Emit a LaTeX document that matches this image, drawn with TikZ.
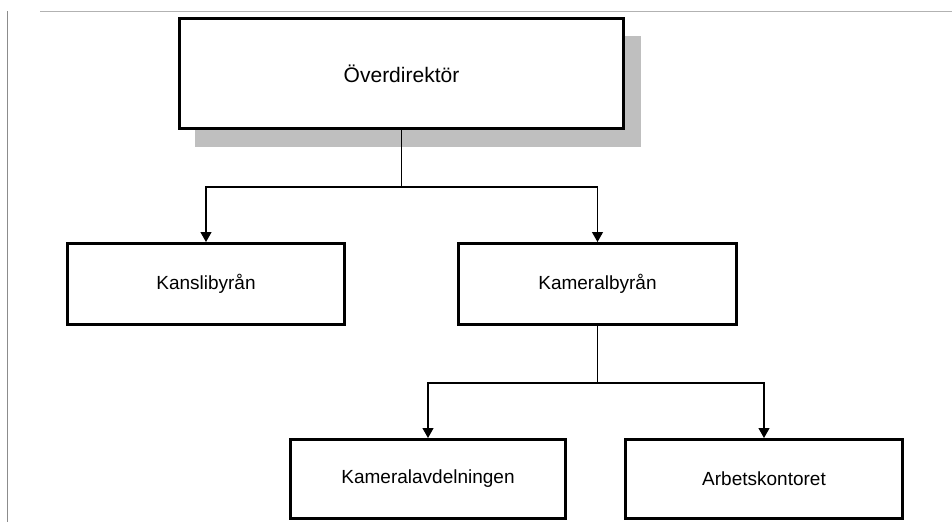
\documentclass[tikz,border=0pt]{standalone}
\usepackage{fontspec}
\setmainfont{Liberation Sans}
\usetikzlibrary{arrows.meta}
\begin{document}
\begin{tikzpicture}[x=1pt,y=-1pt,
  box/.style={draw=black, line width=3pt, fill=white, inner sep=0pt, font=\fontsize{19}{22}\selectfont},
  conn/.style={line width=1.2pt, draw=black},
  arr/.style={conn, -{Triangle[width=11pt,length=10pt]}},
  frame/.style={line width=1pt}]
\useasboundingbox (0,0) rectangle (952,522);
% page edges
\draw[frame, draw=black!30] (40,11) -- (952,11);
\draw[frame, draw=black!45] (7,11) -- (7,522);
% shadow of top box
\fill[black!25] (195,36) rectangle (641,147);
% nodes
\node[box, minimum width=444pt, minimum height=110pt, font=\fontsize{21}{24}\selectfont] (top) at (401.5,73.5) {Överdirektör};
\node[box, minimum width=277pt, minimum height=81pt] (kansli) at (206,284) {Kanslibyrån};
\node[box, minimum width=278pt, minimum height=81pt] (kameral) at (597.5,284) {Kameralbyrån};
\node[box, minimum width=275pt, minimum height=79pt] (avd) at (428,479) {Kameralavdelningen};
\node[box, minimum width=277pt, minimum height=79pt] (arb) at (764,479) {Arbetskontoret};
% junctions
\coordinate (j1) at (401.5,187);
\coordinate (j2) at (597.5,383);
% connectors
\draw[conn] (top.south) -- (j1);
\draw[arr] (j1) -| (kansli.north);
\draw[arr] (j1) -| (kameral.north);
\draw[conn] (kameral.south) -- (j2);
\draw[arr] (j2) -| (avd.north);
\draw[arr] (j2) -| (arb.north);
\end{tikzpicture}
\end{document}
